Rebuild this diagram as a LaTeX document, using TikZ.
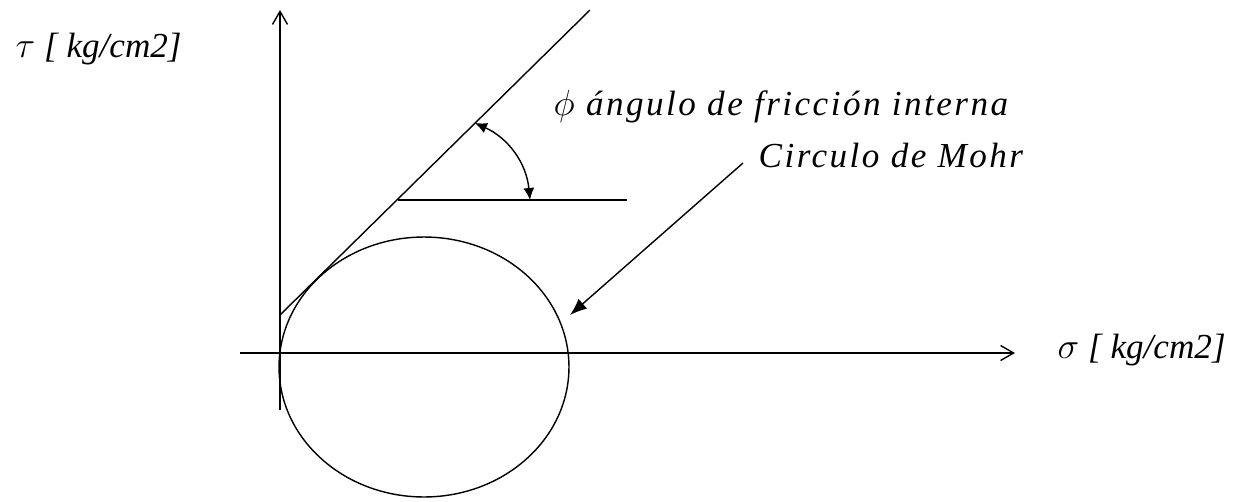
\documentclass[tikz,border=0pt]{standalone}
\usepackage{fontspec}
\setmainfont{Liberation Serif}
\newfontfamily\widefont[LetterSpace=7]{Liberation Serif}
\usetikzlibrary{shapes.geometric, arrows.meta, positioning}

\begin{document}
\begin{tikzpicture}[x=0.02cm, y=-0.02cm, line width=0.8pt,
    axis/.style={-{Straight Barb[length=2.6mm, width=3mm]}},
    dimarrow/.style={{Latex[length=2.4mm, width=2.2mm]}-{Latex[length=2.4mm, width=2.2mm]}},
    callout/.style={-{Latex[length=3.4mm, width=2.6mm]}},
    label/.style={font=\itshape\fontsize{20}{22}\selectfont, inner sep=0},
    widelabel/.style={font=\widefont\itshape\fontsize{20}{22}\selectfont, inner sep=0}
]
\useasboundingbox (0,0) rectangle (1249,501);

% Axes
\coordinate (ybot) at (280,410);
\coordinate (ytop) at (280,10);
\coordinate (xleft) at (240,353);
\coordinate (xright) at (1015,353);
\draw[axis] (ybot) -- (ytop);
\draw[axis] (xleft) -- (xright);
\node[label, anchor=base west] (tau) at (15,57) {$\tau$ [ kg/cm2]};
\node[label, anchor=base west] (sigma) at (1057,358) {$\sigma$ [ kg/cm2]};

% Mohr circle
\node[draw, ellipse, minimum width=5.8cm, minimum height=5.2cm, inner sep=0] (mohr) at (424,367) {};

% Failure envelope
\coordinate (env0) at (280,315);
\coordinate (env1) at (590,10);
\draw (env0) -- (env1);
\coordinate (hor0) at (398,200);
\coordinate (hor1) at (627,200);
\draw (hor0) -- (hor1);

% Friction angle
\coordinate (ang0) at (475,123);
\coordinate (ang1) at (530,200);
\draw[dimarrow] (ang0) to[bend left=30] (ang1);
\node[widelabel, anchor=base west] (phi) at (553,115) {$\phi$ ángulo de fricción interna};

% Circle callout
\node[widelabel, anchor=base west] (circ) at (758,167) {Circulo de Mohr};
\coordinate (call0) at (743,163);
\coordinate (call1) at (570,315);
\draw[callout] (call0) -- (call1);

\end{tikzpicture}
\end{document}
